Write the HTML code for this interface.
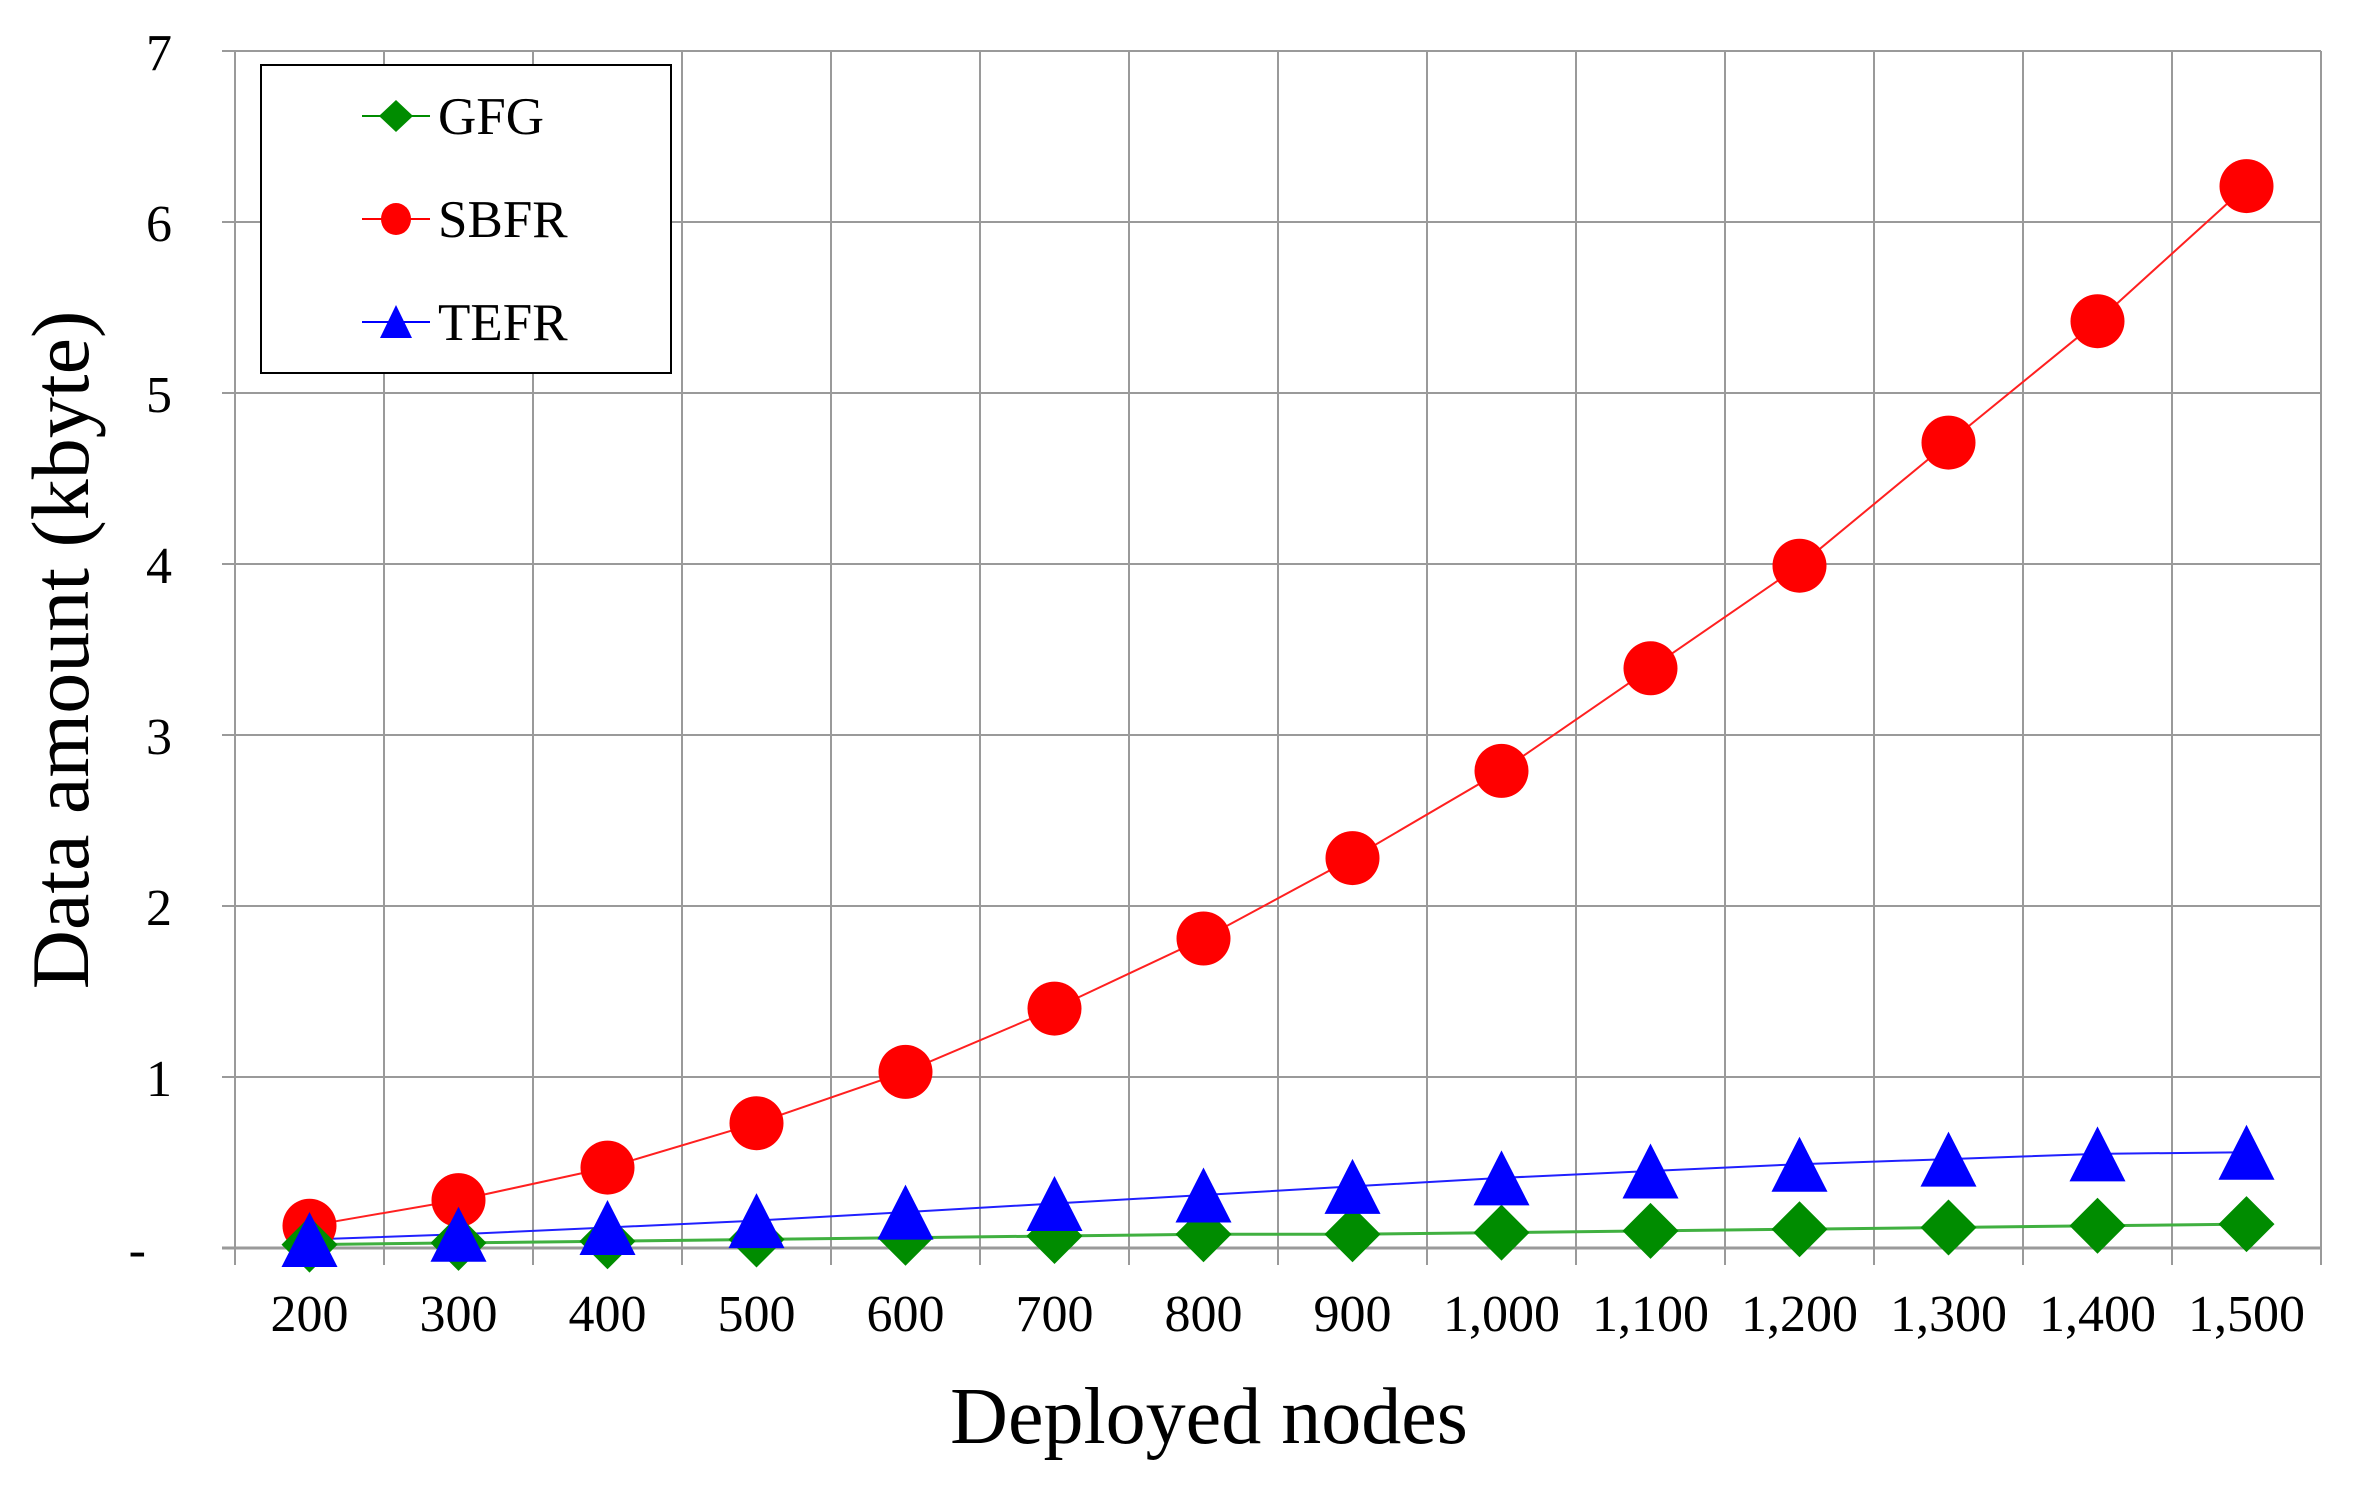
<!DOCTYPE html>
<html><head><meta charset="utf-8"><style>html,body{margin:0;padding:0;background:#fff}svg{display:block}</style></head>
<body>
<svg width="2353" height="1491" viewBox="0 0 2353 1491" xmlns="http://www.w3.org/2000/svg" font-family="Liberation Serif, serif">
<defs>
<path id="tri" d="M0,-27.5 L28,27.5 L-28,27.5 Z" fill="#0000ff"/>
<path id="dia" d="M0,-28 L28,0 L0,28 L-28,0 Z" fill="#008c00"/>
<circle id="cir" r="27" fill="#ff0000"/>
</defs>
<g stroke="#9a9a9a" stroke-width="2">
<line x1="222" y1="51" x2="2321" y2="51"/><line x1="222" y1="222" x2="2321" y2="222"/><line x1="222" y1="393" x2="2321" y2="393"/><line x1="222" y1="564" x2="2321" y2="564"/><line x1="222" y1="735" x2="2321" y2="735"/><line x1="222" y1="906" x2="2321" y2="906"/><line x1="222" y1="1077" x2="2321" y2="1077"/>
<line x1="235" y1="51" x2="235" y2="1265"/><line x1="384" y1="51" x2="384" y2="1265"/><line x1="533" y1="51" x2="533" y2="1265"/><line x1="682" y1="51" x2="682" y2="1265"/><line x1="831" y1="51" x2="831" y2="1265"/><line x1="980" y1="51" x2="980" y2="1265"/><line x1="1129" y1="51" x2="1129" y2="1265"/><line x1="1278" y1="51" x2="1278" y2="1265"/><line x1="1427" y1="51" x2="1427" y2="1265"/><line x1="1576" y1="51" x2="1576" y2="1265"/><line x1="1725" y1="51" x2="1725" y2="1265"/><line x1="1874" y1="51" x2="1874" y2="1265"/><line x1="2023" y1="51" x2="2023" y2="1265"/><line x1="2172" y1="51" x2="2172" y2="1265"/><line x1="2321" y1="51" x2="2321" y2="1265"/>
<line x1="222" y1="1248" x2="2321" y2="1248" stroke-width="3"/>
</g>
<g font-size="52" text-anchor="end" fill="#000">
<text x="172" y="70">7</text><text x="172" y="241">6</text><text x="172" y="412">5</text><text x="172" y="583">4</text><text x="172" y="754">3</text><text x="172" y="925">2</text><text x="172" y="1096">1</text><text x="146" y="1267">-</text>
</g>
<g font-size="52" text-anchor="middle" fill="#000">
<text x="309.5" y="1331">200</text><text x="458.5" y="1331">300</text><text x="607.5" y="1331">400</text><text x="756.5" y="1331">500</text><text x="905.5" y="1331">600</text><text x="1054.5" y="1331">700</text><text x="1203.5" y="1331">800</text><text x="1352.5" y="1331">900</text><text x="1501.5" y="1331">1,000</text><text x="1650.5" y="1331">1,100</text><text x="1799.5" y="1331">1,200</text><text x="1948.5" y="1331">1,300</text><text x="2097.5" y="1331">1,400</text><text x="2246.5" y="1331">1,500</text>
</g>
<text x="1209" y="1443" font-size="80" text-anchor="middle">Deployed nodes</text>
<text transform="translate(88,650) rotate(-90)" font-size="82" text-anchor="middle">Data amount (kbyte)</text>
<polyline fill="none" stroke="#ff2020" stroke-width="2" points="309.5,1225.8 458.5,1200.1 607.5,1167.6 756.5,1123.2 905.5,1071.9 1054.5,1008.6 1203.5,938.5 1352.5,858.1 1501.5,770.9 1650.5,668.3 1799.5,565.7 1948.5,442.6 2097.5,321.2 2246.5,186.1"/>
<polyline fill="none" stroke="#40b040" stroke-width="3" points="309.5,1244.6 458.5,1242.9 607.5,1241.2 756.5,1239.5 905.5,1237.7 1054.5,1236 1203.5,1234.3 1352.5,1234.3 1501.5,1232.6 1650.5,1230.9 1799.5,1229.2 1948.5,1227.5 2097.5,1225.8 2246.5,1224.1"/>
<polyline fill="none" stroke="#2020ff" stroke-width="2" points="309.5,1239.5 458.5,1234.3 607.5,1227.5 756.5,1220.6 905.5,1212.1 1054.5,1203.5 1203.5,1195 1352.5,1186.4 1501.5,1177.9 1650.5,1171 1799.5,1164.2 1948.5,1159.1 2097.5,1153.9 2246.5,1152.2"/>
<g>
<use href="#cir" x="309.5" y="1225.8"/><use href="#cir" x="458.5" y="1200.1"/><use href="#cir" x="607.5" y="1167.6"/><use href="#cir" x="756.5" y="1123.2"/><use href="#cir" x="905.5" y="1071.9"/><use href="#cir" x="1054.5" y="1008.6"/><use href="#cir" x="1203.5" y="938.5"/><use href="#cir" x="1352.5" y="858.1"/><use href="#cir" x="1501.5" y="770.9"/><use href="#cir" x="1650.5" y="668.3"/><use href="#cir" x="1799.5" y="565.7"/><use href="#cir" x="1948.5" y="442.6"/><use href="#cir" x="2097.5" y="321.2"/><use href="#cir" x="2246.5" y="186.1"/>
<use href="#dia" x="309.5" y="1244.6"/><use href="#dia" x="458.5" y="1242.9"/><use href="#dia" x="607.5" y="1241.2"/><use href="#dia" x="756.5" y="1239.5"/><use href="#dia" x="905.5" y="1237.7"/><use href="#dia" x="1054.5" y="1236"/><use href="#dia" x="1203.5" y="1234.3"/><use href="#dia" x="1352.5" y="1234.3"/><use href="#dia" x="1501.5" y="1232.6"/><use href="#dia" x="1650.5" y="1230.9"/><use href="#dia" x="1799.5" y="1229.2"/><use href="#dia" x="1948.5" y="1227.5"/><use href="#dia" x="2097.5" y="1225.8"/><use href="#dia" x="2246.5" y="1224.1"/>
<use href="#tri" x="309.5" y="1239.5"/><use href="#tri" x="458.5" y="1234.3"/><use href="#tri" x="607.5" y="1227.5"/><use href="#tri" x="756.5" y="1220.6"/><use href="#tri" x="905.5" y="1212.1"/><use href="#tri" x="1054.5" y="1203.5"/><use href="#tri" x="1203.5" y="1195"/><use href="#tri" x="1352.5" y="1186.4"/><use href="#tri" x="1501.5" y="1177.9"/><use href="#tri" x="1650.5" y="1171"/><use href="#tri" x="1799.5" y="1164.2"/><use href="#tri" x="1948.5" y="1159.1"/><use href="#tri" x="2097.5" y="1153.9"/><use href="#tri" x="2246.5" y="1152.2"/>
</g>
<rect x="261" y="65" width="410" height="308" fill="#fff" stroke="#000" stroke-width="2"/>
<line x1="362" y1="116" x2="430" y2="116" stroke="#008c00" stroke-width="2"/>
<path d="M396,100 L413,116 L396,132 L379,116 Z" fill="#008c00"/>
<line x1="362" y1="219" x2="430" y2="219" stroke="#ff0000" stroke-width="2"/>
<ellipse cx="396" cy="219" rx="15" ry="16" fill="#ff0000"/>
<line x1="362" y1="322" x2="430" y2="322" stroke="#0000ff" stroke-width="2"/>
<path d="M396,305 L412,338 L380,338 Z" fill="#0000ff"/>
<g font-size="53" fill="#000">
<text x="438" y="134">GFG</text><text x="438" y="237">SBFR</text><text x="438" y="340">TEFR</text>
</g>
</svg>
</body></html>
